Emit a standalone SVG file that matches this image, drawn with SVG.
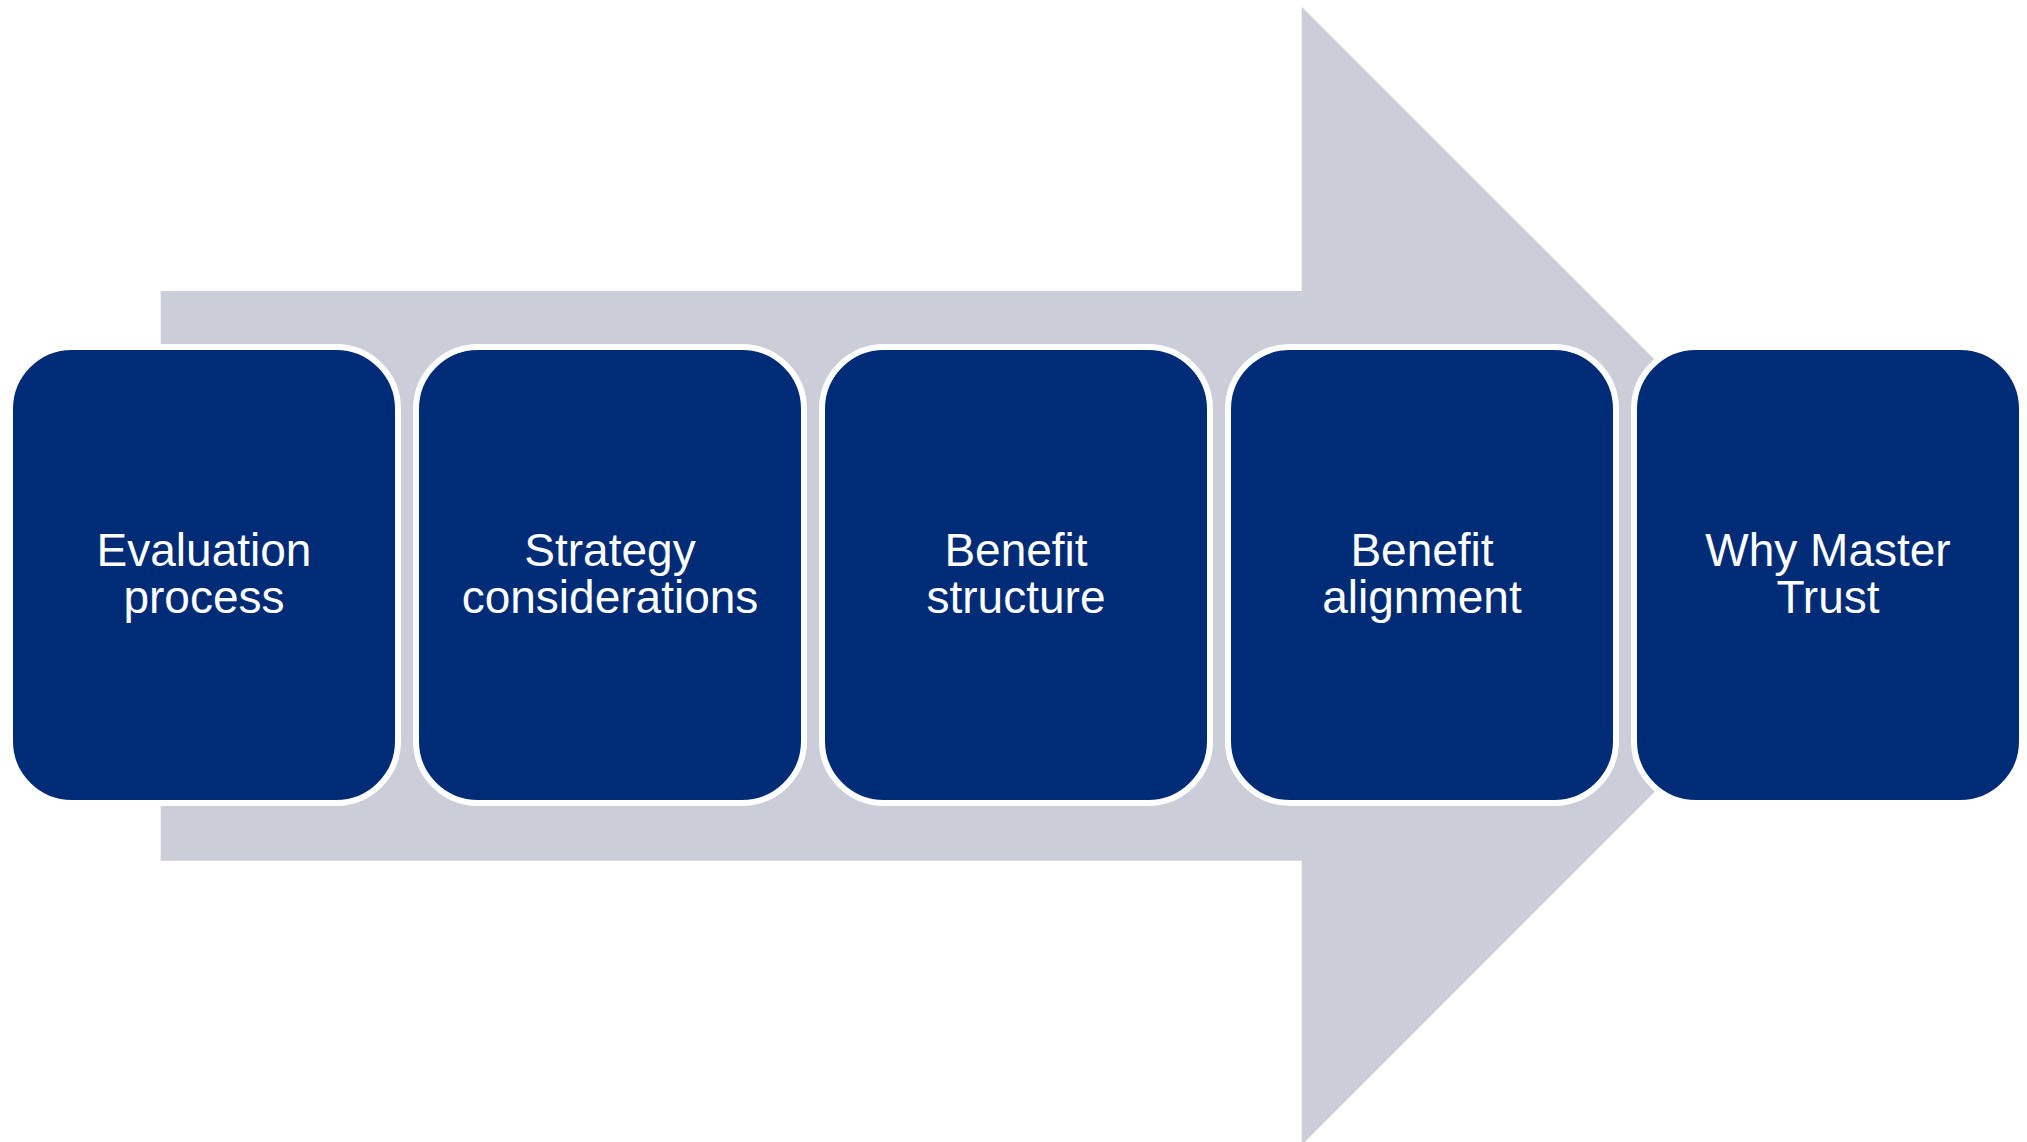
<svg xmlns="http://www.w3.org/2000/svg" width="2027" height="1142" viewBox="0 0 2027 1142">
  <style>
    .step rect { fill: #002C77; stroke: #FFFFFF; stroke-width: 6; }
    .step text { fill: #FFFFFF; font-family: "Liberation Sans", Arial, sans-serif; font-size: 46px; text-anchor: middle; }
  </style>
  <rect width="2027" height="1142" fill="#FFFFFF"/>

  <!-- background process arrow -->
  <g id="connectors">
    <polygon points="160.7,291 1301.7,291 1301.7,6.7 1870.8,575.8 1301.7,1144.9 1301.7,860.7 160.7,860.7" fill="#CBCED8"/>
  </g>

  <g id="step1" class="step">
    <rect x="10" y="347" width="388" height="456" rx="62" ry="62"/>
    <text x="204" y="566">Evaluation</text>
    <text x="204" y="613">process</text>
  </g>

  <g id="step2" class="step">
    <rect x="416" y="347" width="388" height="456" rx="62" ry="62"/>
    <text x="610" y="566">Strategy</text>
    <text x="610" y="613">considerations</text>
  </g>

  <g id="step3" class="step">
    <rect x="822" y="347" width="388" height="456" rx="62" ry="62"/>
    <text x="1016" y="566">Benefit</text>
    <text x="1016" y="613">structure</text>
  </g>

  <g id="step4" class="step">
    <rect x="1228" y="347" width="388" height="456" rx="62" ry="62"/>
    <text x="1422" y="566">Benefit</text>
    <text x="1422" y="613">alignment</text>
  </g>

  <g id="step5" class="step">
    <rect x="1634" y="347" width="388" height="456" rx="62" ry="62"/>
    <text x="1828" y="566">Why Master</text>
    <text x="1828" y="613">Trust</text>
  </g>
</svg>
